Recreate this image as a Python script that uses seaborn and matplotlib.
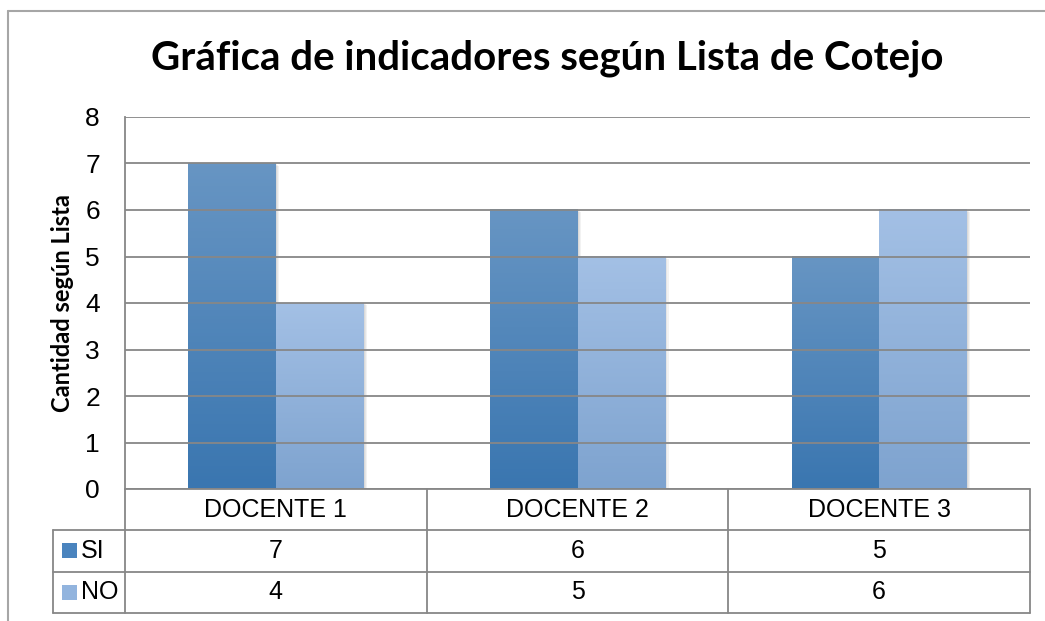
import numpy as np
import pandas as pd
import matplotlib
matplotlib.use("Agg")
import matplotlib.pyplot as plt
import seaborn as sns
from matplotlib.colors import LinearSegmentedColormap
from matplotlib.lines import Line2D
from matplotlib.patches import Rectangle

# Data
categories = ["DOCENTE 1", "DOCENTE 2", "DOCENTE 3"]
series = ["SI", "NO"]
si_values = [7, 6, 5]
no_values = [4, 5, 6]

df = pd.DataFrame({
    "docente": categories * 2,
    "serie": ["SI"] * 3 + ["NO"] * 3,
    "cantidad": si_values + no_values,
})

# gradient colours (top, bottom) per series
grad = {
    "SI": ("#6795C3", "#3A76B0"),
    "NO": ("#A3C0E5", "#7EA3CF"),
}
mid = {"SI": "#4A84BE", "NO": "#92B4DE"}

sns.set_style("white")
plt.rcParams["font.family"] = ["Liberation Sans", "DejaVu Sans"]
plt.rcParams["text.color"] = "black"
plt.rcParams["ytick.color"] = "black"
plt.rcParams["axes.labelcolor"] = "black"

fig = plt.figure(figsize=(10.45, 6.21), dpi=100)
ax = fig.add_axes([125 / 1045, 132 / 621, 905 / 1045, 372 / 621])

sns.barplot(data=df, x="docente", y="cantidad", hue="serie", order=categories,
            hue_order=series, palette=mid, width=0.58, saturation=1,
            legend=False, ax=ax, linewidth=0)

# replace flat bars with vertical gradients (Excel look)
ymax = 8
for patch, name in zip(ax.patches, ["SI"] * 3 + ["NO"] * 3):
    x0, y0 = patch.get_x(), patch.get_y()
    w, h = patch.get_width(), patch.get_height()
    top, bottom = grad[name]
    cmap = LinearSegmentedColormap.from_list(name, [bottom, top])
    g = np.linspace(0, h / ymax, 100).reshape(-1, 1)
    # soft shadow, a few faint layers
    for d in (0.004, 0.008, 0.012):
        ax.add_patch(Rectangle((x0 + d, y0 - d * 4), w, h, color="#000000",
                               alpha=0.05, lw=0, zorder=0.8))
    ax.imshow(g, extent=[x0, x0 + w, y0, y0 + h], origin="lower", cmap=cmap,
              vmin=0, vmax=h / ymax, aspect="auto", zorder=1)
    patch.set_visible(False)

ax.set_xlim(-0.5, 2.5)
ax.set_ylim(0, 8)
ax.set_yticks(range(0, 9))
ax.yaxis.grid(True, color="#878787", linewidth=1.3)
ax.set_axisbelow(False)
ax.xaxis.grid(False)
for s in ["top", "right", "bottom"]:
    ax.spines[s].set_visible(False)
ax.spines["left"].set_color("#878787")
ax.spines["left"].set_linewidth(1.3)
ax.tick_params(axis="y", length=0, pad=18, labelsize=19)
ax.set_xticks([])
ax.set_xlabel("")
ax.set_ylabel("Cantidad según Lista", fontsize=17, fontweight="bold",
              family=["Lato", "DejaVu Sans"], labelpad=8)

# data table under the plot
row_h = 41.3 / 372
leg_x = (53 - 125) / 905
lc = "#878787"
lw = 1.3
def hline(y, x0, x1):
    ax.add_line(Line2D([x0, x1], [y, y], transform=ax.transAxes, color=lc,
                       lw=lw, clip_on=False))
def vline(x, y0, y1):
    ax.add_line(Line2D([x, x], [y0, y1], transform=ax.transAxes, color=lc,
                       lw=lw, clip_on=False))

hline(0, 0, 1)
for k in range(1, 4):
    hline(-k * row_h, leg_x, 1)
for k in range(4):
    vline(k / 3, -3 * row_h, 0)
vline(leg_x, -3 * row_h, -row_h)

fs = 18
for i, cat in enumerate(categories):
    xc = (i + 0.5) / 3
    ax.text(xc, -0.5 * row_h, cat, transform=ax.transAxes, ha="center",
            va="center", fontsize=fs)
    ax.text(xc, -1.5 * row_h, str(si_values[i]), transform=ax.transAxes,
            ha="center", va="center", fontsize=fs)
    ax.text(xc, -2.5 * row_h, str(no_values[i]), transform=ax.transAxes,
            ha="center", va="center", fontsize=fs)

for k, name in enumerate(series):
    yc = -(k + 1.5) * row_h
    fig.add_artist(Rectangle((62 / 1045, (621 - 558 - k * 41.5) / 621),
                             15 / 1045, 15 / 621, transform=fig.transFigure,
                             color=mid[name], lw=0))
    ax.text((81 - 125) / 905, yc, name, transform=ax.transAxes, ha="left",
            va="center", fontsize=fs)

# title
fig.text(547 / 1045, 1 - 58 / 621, "Gráfica de indicadores según Lista de Cotejo",
         ha="center", va="center", fontsize=29, fontweight="bold",
         family=["Lato", "DejaVu Sans"])

# outer chart border
fig.add_artist(Line2D([8 / 1045, 1], [1 - 11 / 621] * 2,
                      transform=fig.transFigure, color="#A6A6A6", lw=1.5))
fig.add_artist(Line2D([8 / 1045] * 2, [0, 1 - 11 / 621],
                      transform=fig.transFigure, color="#A6A6A6", lw=1.5))

fig.savefig("out.png", dpi=100)
